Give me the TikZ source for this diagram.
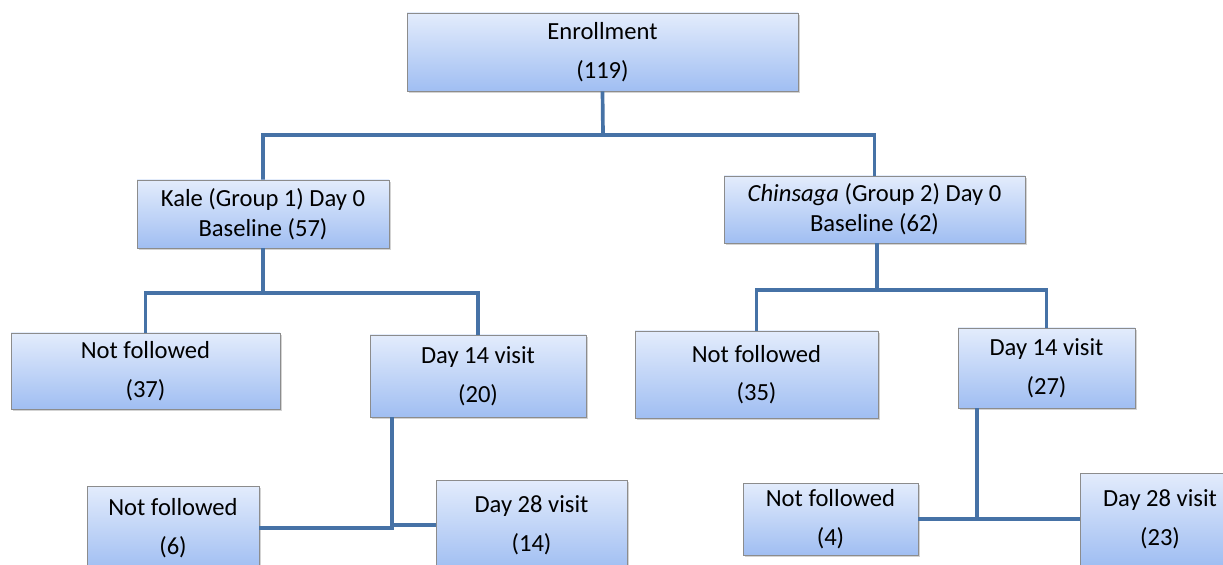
\documentclass[tikz,border=0pt]{standalone}
\usepackage{fontspec}
\setmainfont{Carlito}
\usepackage{tikz}
\usetikzlibrary{shadows}
\definecolor{linkblue}{HTML}{4672A6}
\definecolor{boxtop}{HTML}{E3ECFC}
\definecolor{boxbot}{HTML}{A0BEF2}

\begin{document}
\begin{tikzpicture}[
  flowbox/.style={draw=black!45, top color=boxtop, bottom color=boxbot,
    drop shadow={shadow xshift=1.2pt, shadow yshift=-1.2pt, opacity=0.35},
    align=center, font=\fontsize{14}{17}\selectfont, inner sep=2pt},
  link/.style={draw=linkblue, line width=2.1pt}
]
  \useasboundingbox (0,0) rectangle (24.46,-11.3);

  % top
  \node[flowbox, minimum width=7.82cm, minimum height=1.56cm] (enroll) at (12.05,-1.04)
    {Enrollment\\[5pt](119)};

  % groups at baseline
  \node[flowbox, minimum width=5.04cm, minimum height=1.36cm] (kale) at (5.26,-4.28)
    {Kale (Group 1) Day 0\\Baseline (57)};
  \node[flowbox, minimum width=6.02cm, minimum height=1.34cm] (chin) at (17.49,-4.19)
    {\textit{Chinsaga} (Group 2) Day 0\\Baseline (62)};

  % day 14
  \node[flowbox, minimum width=5.38cm, minimum height=1.52cm] (nfkale) at (2.91,-7.42)
    {Not followed\\[5pt](37)};
  \node[flowbox, minimum width=4.32cm, minimum height=1.64cm] (dkale) at (9.56,-7.52)
    {Day 14 visit\\[5pt](20)};
  \node[flowbox, minimum width=4.86cm, minimum height=1.74cm] (nfchin) at (15.13,-7.49)
    {Not followed\\[5pt](35)};
  \node[flowbox, minimum width=3.54cm, minimum height=1.60cm] (dchin) at (20.93,-7.36)
    {Day 14 visit\\[5pt](27)};

  % day 28
  \node[flowbox, minimum width=3.44cm, minimum height=1.68cm] (nfkale28) at (3.46,-10.56)
    {Not followed\\[5pt](6)};
  \node[flowbox, minimum width=3.82cm, minimum height=1.80cm] (dkale28) at (10.63,-10.50)
    {Day 28 visit\\[5pt](14)};
  \node[flowbox, minimum width=3.50cm, minimum height=1.44cm] (nfchin28) at (16.61,-10.38)
    {Not followed\\[5pt](4)};
  \node[flowbox, minimum width=3.20cm, minimum height=1.84cm] (dchin28) at (23.20,-10.38)
    {Day 28 visit\\[5pt](23)};

  % branch points
  \coordinate (split1) at (12.06,-2.70);
  \coordinate (split2) at (5.26,-5.86);
  \coordinate (split3) at (17.54,-5.80);
  \coordinate (trunk4) at (7.84,-8.34);
  \coordinate (trunk5) at (19.54,-8.16);

  % connectors
  \draw[link] (enroll.south) -- (split1) -| (kale.north);
  \draw[link] (split1) -| (chin.north);
  \draw[link] (kale.south) -- (split2) -| (nfkale.north);
  \draw[link] (split2) -| (dkale.north);
  \draw[link] (chin.south -| split3) -- (split3) -| (nfchin.north);
  \draw[link] (split3) -| (dchin.north);
  \draw[link] (nfkale28.east) -| (trunk4);
  \draw[link] (dkale28.west) -- (dkale28.west -| trunk4);
  \draw[link] (nfchin28.east) -| (trunk5);
  \draw[link] (dchin28.west) -- (dchin28.west -| trunk5);
\end{tikzpicture}
\end{document}
